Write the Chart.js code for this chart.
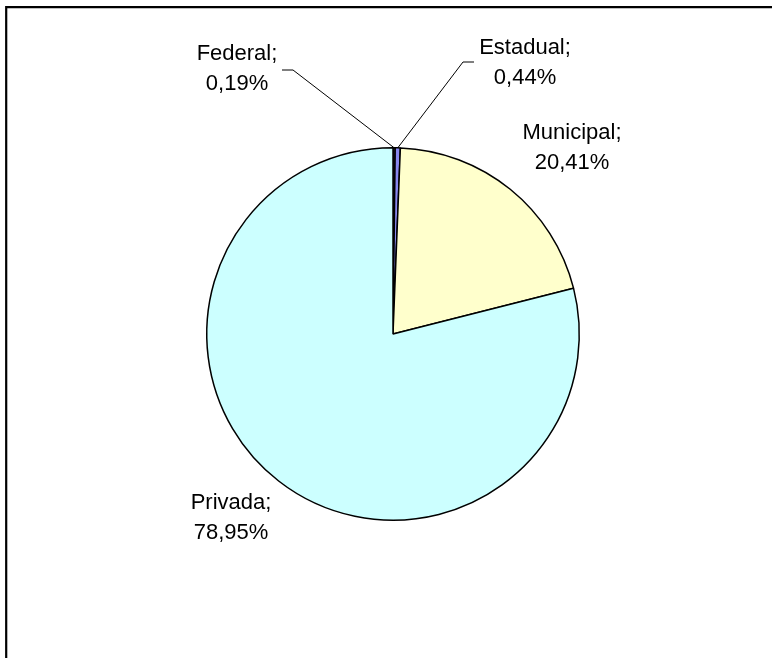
<!DOCTYPE html>
<html>
<head>
<meta charset="utf-8">
<script src="https://cdn.jsdelivr.net/npm/chart.js@4.4.1/dist/chart.umd.min.js"></script>
<style>
  html, body { margin: 0; padding: 0; background: #ffffff; }
  #wrap { position: relative; width: 772px; height: 658px; }
  canvas { display: block; }
</style>
</head>
<body>
<div id="wrap"><canvas id="c" width="772" height="658"></canvas></div>
<script>
// ---- data ----
const categories = ['Federal', 'Estadual', 'Municipal', 'Privada'];
const shares = [0.19, 0.44, 20.41, 78.95];
const sliceColors = ['#333366', '#8888EE', '#FFFFCC', '#CCFFFF'];

function fmt(v) { return v.toFixed(2).replace('.', ',') + '%'; }

// label placement (centre of the two-line label) and optional leader start
const labelLayout = [
  { x: 237, y: 54, leader: [[282, 70], [293, 70]] },
  { x: 525, y: 48, leader: [[474, 62], [463, 62]] },
  { x: 572, y: 133 },
  { x: 231, y: 503 }
];

const frameAndLabels = {
  id: 'frameAndLabels',
  afterDraw(chart) {
    const ctx = chart.ctx;
    ctx.save();
    // outer frame (only top and left edges are visible in the picture)
    ctx.strokeStyle = '#000';
    ctx.lineWidth = 2.2;
    ctx.beginPath();
    ctx.moveTo(6.2, 660);
    ctx.lineTo(6.2, 7.1);
    ctx.lineTo(775, 7.1);
    ctx.stroke();

    const meta = chart.getDatasetMeta(0);
    ctx.font = '22px "Liberation Sans", Arial, sans-serif';
    ctx.fillStyle = '#000';
    ctx.textAlign = 'center';
    ctx.textBaseline = 'middle';
    meta.data.forEach((arc, i) => {
      const p = arc.getProps(['x', 'y', 'startAngle', 'endAngle', 'outerRadius'], true);
      const lay = labelLayout[i];
      ctx.fillText(categories[i] + ';', lay.x, lay.y);
      ctx.fillText(fmt(shares[i]), lay.x, lay.y + 30);
      if (lay.leader) {
        const mid = (p.startAngle + p.endAngle) / 2;
        const ex = p.x + Math.cos(mid) * p.outerRadius;
        const ey = p.y + Math.sin(mid) * p.outerRadius;
        ctx.lineWidth = 1;
        ctx.strokeStyle = '#000';
        ctx.beginPath();
        ctx.moveTo(lay.leader[0][0], lay.leader[0][1]);
        ctx.lineTo(lay.leader[1][0], lay.leader[1][1]);
        ctx.lineTo(ex, ey);
        ctx.stroke();
      }
    });
    ctx.restore();
  }
};

new Chart(document.getElementById('c'), {
  type: 'pie',
  data: {
    labels: categories,
    datasets: [{
      data: shares,
      backgroundColor: sliceColors,
      borderColor: '#000000',
      borderWidth: 1.5
    }]
  },
  options: {
    responsive: false,
    animation: false,
    layout: { padding: { left: 206, right: 192, top: 147, bottom: 137 } },
    plugins: {
      legend: { display: false },
      tooltip: { enabled: false }
    }
  },
  plugins: [frameAndLabels]
});
</script>
</body>
</html>
